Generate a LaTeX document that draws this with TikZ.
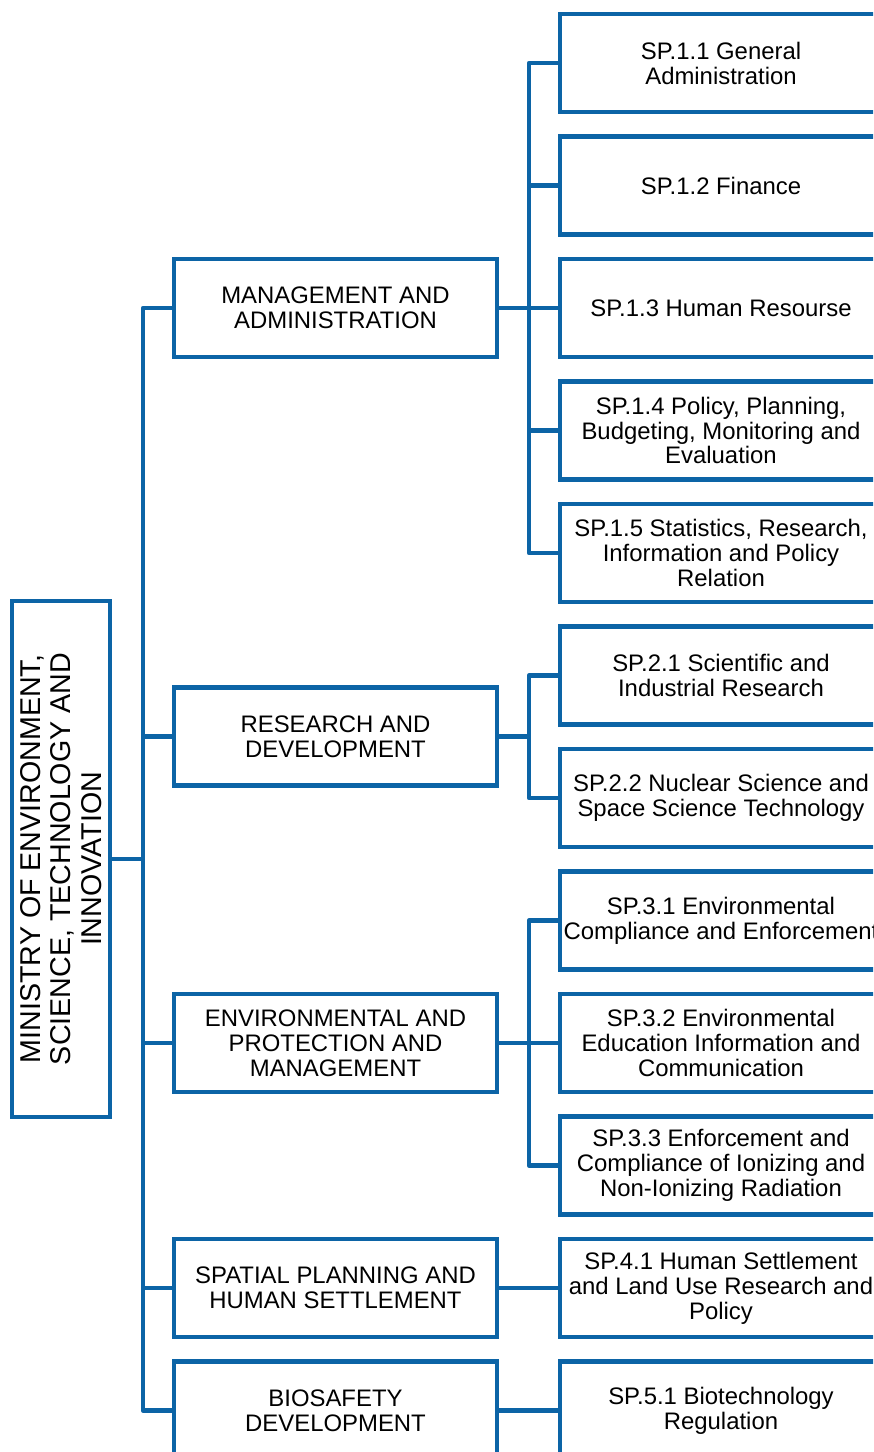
\documentclass[tikz,border=0pt]{standalone}
\usepackage{fontspec}
\setmainfont{Liberation Sans}
\definecolor{chartblue}{RGB}{12,100,166}
\tikzset{
  rootbox/.style={draw=chartblue, line width=2.6pt, fill=white, align=center,
    inner sep=0pt, minimum width=10.32cm, minimum height=1.96cm,
    font=\fontsize{16.3}{17.5}\selectfont},
  progbox/.style={draw=chartblue, line width=2.6pt, fill=white, align=center,
    inner sep=0pt, minimum width=6.46cm, minimum height=1.96cm,
    font=\fontsize{13.6}{14.2}\selectfont},
  subbox/.style={draw=chartblue, line width=2.6pt, fill=white, align=center,
    inner sep=0pt, minimum width=6.44cm, minimum height=1.96cm,
    font=\fontsize{13.6}{14.2}\selectfont},
  link/.style={draw=chartblue, line width=2.6pt, line join=round},
}
\newcommand{\stub}[2]{\draw[link] (#1) -- (#1 -| #2);}

\begin{document}
\begin{tikzpicture}[x=0.02cm, y=-0.02cm]
  \useasboundingbox (0,0) rectangle (873,1452);
  \clip (0,0) rectangle (873,1452);

  \coordinate (trunk) at (143,0);
  \coordinate (spine) at (529,0);

  \node[rootbox, rotate=90] (root) at (61,859)
    {MINISTRY OF ENVIRONMENT,\\SCIENCE, TECHNOLOGY AND\\INNOVATION};

  % programmes
  \node[progbox] (mgmt) at (335.5,308)  {MANAGEMENT AND\\ADMINISTRATION};
  \node[progbox] (resd) at (335.5,736.5) {RESEARCH AND\\DEVELOPMENT};
  \node[progbox] (envp) at (335.5,1043) {ENVIRONMENTAL AND\\PROTECTION AND\\MANAGEMENT};
  \node[progbox] (spat) at (335.5,1288) {SPATIAL PLANNING AND\\HUMAN SETTLEMENT};
  \node[progbox] (bios) at (335.5,1410.5) {BIOSAFETY\\DEVELOPMENT};

  % sub-programmes
  \node[subbox] (sp11) at (721,63)     {SP.1.1 General\\Administration};
  \node[subbox] (sp12) at (721,185.5)  {SP.1.2 Finance};
  \node[subbox] (sp13) at (721,308)    {SP.1.3 Human Resourse};
  \node[subbox] (sp14) at (721,430.5)  {SP.1.4 Policy, Planning,\\Budgeting, Monitoring and\\Evaluation};
  \node[subbox] (sp15) at (721,553)    {SP.1.5 Statistics, Research,\\Information and Policy\\Relation};
  \node[subbox] (sp21) at (721,675.5)  {SP.2.1 Scientific and\\Industrial Research};
  \node[subbox] (sp22) at (721,798)    {SP.2.2 Nuclear Science and\\Space Science Technology};
  \node[subbox] (sp31) at (721,920.5)  {SP.3.1 Environmental\\Compliance and Enforcement};
  \node[subbox] (sp32) at (721,1043)   {SP.3.2 Environmental\\Education Information and\\Communication};
  \node[subbox] (sp33) at (721,1165.5) {SP.3.3 Enforcement and\\Compliance of Ionizing and\\Non-Ionizing Radiation};
  \node[subbox] (sp41) at (721,1288)   {SP.4.1 Human Settlement\\and Land Use Research and\\Policy};
  \node[subbox] (sp51) at (721,1410.5) {SP.5.1 Biotechnology\\Regulation};

  % trunk
  \stub{root.south}{trunk}
  \draw[link] (mgmt.west) -- (mgmt.west -| trunk) |- (bios.west);
  \foreach \n in {resd,envp,spat} {\stub{\n.west}{trunk}}

  % spines
  \stub{mgmt.east}{spine}
  \draw[link] (sp11.west) -- (sp11.west -| spine) |- (sp15.west);
  \foreach \n in {sp12,sp13,sp14} {\stub{\n.west}{spine}}
  \stub{resd.east}{spine}
  \draw[link] (sp21.west) -- (sp21.west -| spine) |- (sp22.west);
  \stub{envp.east}{spine}
  \draw[link] (sp31.west) -- (sp31.west -| spine) |- (sp33.west);
  \stub{sp32.west}{spine}
  \draw[link] (spat) -- (sp41);
  \draw[link] (bios) -- (sp51);

\end{tikzpicture}
\end{document}
